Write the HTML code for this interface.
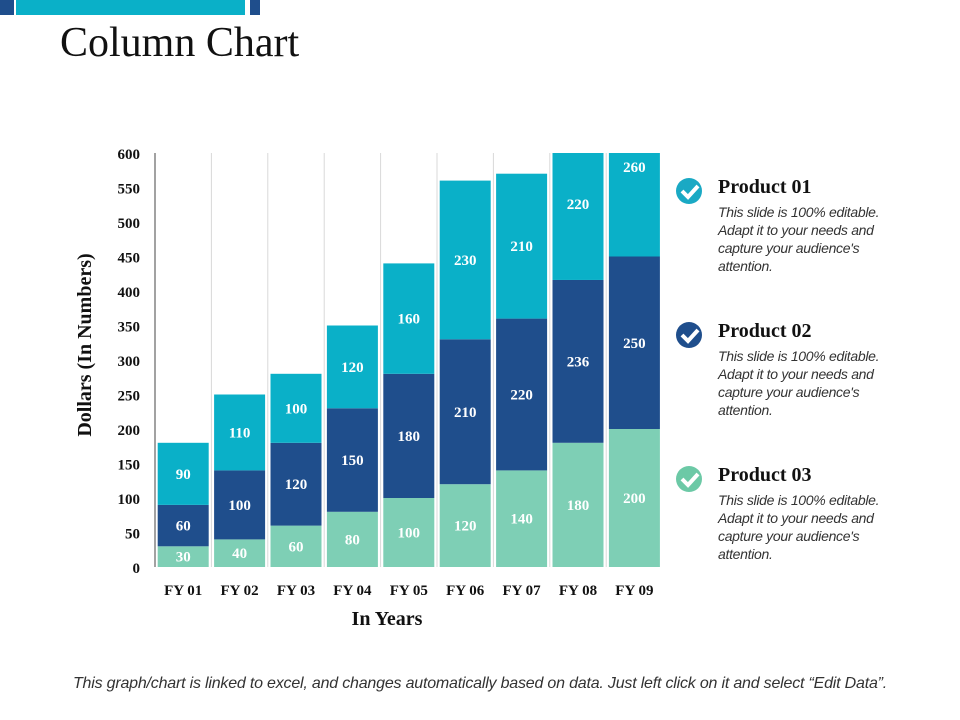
<!DOCTYPE html>
<html><head><meta charset="utf-8"><style>
body{margin:0;width:960px;height:720px;background:#fff;overflow:hidden;font-family:"Liberation Serif",serif}
svg{position:absolute;left:0;top:0}
.leg{position:absolute;left:718px;width:188px}
.leg h3{margin:0;font:bold 20px "Liberation Serif",serif;color:#111}
.leg p{margin:4px 0 0;font:italic 14px/18px "Liberation Sans",sans-serif;color:#333;letter-spacing:-0.3px}
.chk{position:absolute;left:676px;width:26px;height:26px;border-radius:50%}
</style></head><body>
<div style="position:absolute;left:0;top:0;width:14px;height:15px;background:#1f4e8c"></div>
<div style="position:absolute;left:16px;top:0;width:229px;height:15px;background:#0ab0c8"></div>
<div style="position:absolute;left:250px;top:0;width:10px;height:15px;background:#1f4e8c"></div>
<div style="position:absolute;left:60px;top:19px;font-size:42px;color:#111">Column Chart</div>
<svg id="c" width="960" height="720"><defs><clipPath id="pc"><rect x="150" y="153" width="520" height="420"/></clipPath></defs><g id="bars" clip-path="url(#pc)"></g></svg>
<div class="chk" style="top:178px;background:#1aa9c4"></div>
<div class="chk" style="top:322px;background:#1f4e8c"></div>
<div class="chk" style="top:466px;background:#6cc9a6"></div>
<svg width="960" height="720" style="pointer-events:none">
<path d="M682 191 l6 6 l10 -11" stroke="#fff" stroke-width="4" fill="none"/>
<path d="M682 335 l6 6 l10 -11" stroke="#fff" stroke-width="4" fill="none"/>
<path d="M682 479 l6 6 l10 -11" stroke="#fff" stroke-width="4" fill="none"/>
</svg>
<div class="leg" style="top:176px"><h3>Product 01</h3><p>This slide is 100% editable. Adapt it to your needs and capture your audience's attention.</p></div>
<div class="leg" style="top:320px"><h3>Product 02</h3><p>This slide is 100% editable. Adapt it to your needs and capture your audience's attention.</p></div>
<div class="leg" style="top:464px"><h3>Product 03</h3><p>This slide is 100% editable. Adapt it to your needs and capture your audience's attention.</p></div>
<div style="position:absolute;left:0;width:960px;top:675px;text-align:center;font:italic 16px 'Liberation Sans',sans-serif;color:#333;white-space:nowrap;letter-spacing:-0.2px">This graph/chart is linked to excel, and changes automatically based on data. Just left click on it and select “Edit Data”.</div>
<script>
const categories=["FY 01","FY 02","FY 03","FY 04","FY 05","FY 06","FY 07","FY 08","FY 09"];
const product03=[30,40,60,80,100,120,140,180,200];
const product02=[60,100,120,150,180,210,220,236,250];
const product01=[90,110,100,120,160,230,210,220,260];
const yTicks=[0,50,100,150,200,250,300,350,400,450,500,550,600];
const svg=document.getElementById('c');const barsG=document.getElementById('bars');const NS='http://www.w3.org/2000/svg';
const x0=155,step=56.4,bw=51,y0=567,yTop=153,yMax=600;
const y=v=>y0-(v/yMax)*(y0-yTop);
const xc=i=>x0+step*(i+0.5);
function mk(t,a,txt,p){const e=document.createElementNS(NS,t);for(const k in a)e.setAttribute(k,a[k]);if(txt!=null)e.textContent=txt;(p||svg).appendChild(e);return e;}
for(let i=1;i<categories.length;i++){const g=mk('line',{x1:x0+step*i,x2:x0+step*i,y1:yTop,y2:y0,stroke:'#d9d9d9','stroke-width':1});

}
yTicks.forEach(v=>{const t=mk('text',{x:140,y:y(v)+6,'text-anchor':'end','font-size':15,'font-weight':'bold',fill:'#111'},v);

});
const series=[[product03,'#7ecfb5'],[product02,'#1f4e8c'],[product01,'#0ab0c8']];
categories.forEach((c,i)=>{let base=0;series.forEach(([arr,col],s)=>{const v=arr[i];
const r=mk('rect',{x:xc(i)-bw/2,y:y(base+v),width:bw,height:y(base)-y(base+v),fill:col},null,barsG);


base+=v;});
base=0;series.forEach(([arr])=>{const v=arr[i];
const t=mk('text',{x:xc(i),y:(y(base)+y(base+v))/2+5,'text-anchor':'middle','font-size':15,'font-weight':'bold',fill:'#fff'},v);


base+=v;});
const l=mk('text',{x:xc(i),y:595,'text-anchor':'middle','font-size':15,'font-weight':'bold',fill:'#111'},c);

});
const ax=mk('line',{x1:x0,x2:x0,y1:yTop,y2:y0,stroke:'#444','stroke-width':1});


const xt=mk('text',{x:387,y:625,'text-anchor':'middle','font-size':20,'font-weight':'bold',fill:'#111'},'In Years');


const yt=mk('text',{x:0,y:0,transform:'translate(91,345) rotate(-90)','text-anchor':'middle','font-size':20,'font-weight':'bold',fill:'#111'},'Dollars (In Numbers)');


</script>
</body></html>
